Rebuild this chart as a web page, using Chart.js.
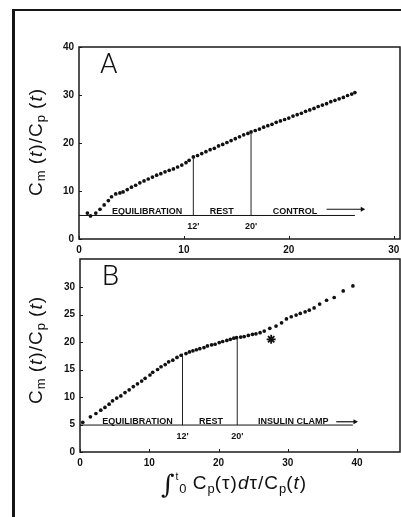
<!DOCTYPE html>
<html><head><meta charset="utf-8">
<script src="https://cdn.jsdelivr.net/npm/chart.js@4.4.1/dist/chart.umd.min.js"></script>
<style>
html,body{margin:0;padding:0;background:#fff;width:401px;height:517px;overflow:hidden;position:relative;font-family:"Liberation Sans",Arial,sans-serif;color:#111}
canvas{position:absolute;left:0}
#cA{top:0}
#cB{top:255px}
.frame{position:absolute;left:12px;top:9px;width:420px;height:530px;border-left:3px solid #151515;border-top:2px solid #151515}
.panel{position:absolute;font-family:Roboto,"Liberation Sans",sans-serif;font-weight:300;font-size:28px;line-height:1}
.ttl{position:absolute;white-space:nowrap;font-size:19px;letter-spacing:1px;line-height:1}
.ytitle{transform:translate(-50%,-50%) rotate(-90deg)}
.xtitle{transform:translate(-50%,-50%)}
.ttl sub{font-size:0.68em;vertical-align:-0.3em;letter-spacing:0}
.ttl sup{font-size:0.55em;vertical-align:0.9em}
.int{font-size:26px;font-family:"DejaVu Serif",serif;font-weight:300;vertical-align:-0.15em}
</style></head>
<body>
<div class="frame"></div>
<canvas id="cA" width="401" height="262"></canvas>
<canvas id="cB" width="401" height="262"></canvas>
<div class="panel" style="left:100px;top:50px">A</div>
<div class="panel" style="left:102px;top:262px">B</div>
<div class="ttl ytitle" style="left:37px;top:142px">C<sub>m</sub> (<i>t</i>)/C<sub>p</sub> (<i>t</i>)</div>
<div class="ttl ytitle" style="left:37px;top:350px">C<sub>m</sub> (<i>t</i>)/C<sub>p</sub> (<i>t</i>)</div>
<div class="ttl xtitle" style="left:234px;top:484px"><span class="int">∫</span><sup>t</sup><sub>0</sub> C<sub>p</sub>(τ)<i>d</i>τ/C<sub>p</sub>(<i>t</i>)</div>
<script>
// ---------- Panel A data ----------
const xA = [0.8,1.1,1.6,2.0,2.4,2.8,3.1,3.5,3.9,4.2,4.6,5.0,5.4,5.8,6.2,6.6,7.0,7.4,7.8,8.2,8.6,9.0,9.4,9.8,10.2,10.5,10.9,11.3,11.7,12.1,12.5,12.9,13.3,13.7,14.1,14.5,14.9,15.3,15.7,16.1,16.4,16.8,17.2,17.6,18.0,18.4,18.8,19.2,19.6,20.0,20.4,20.8,21.2,21.6,22.0,22.4,22.8,23.2,23.6,24.0,24.4,24.8,25.2,25.6,26.0,26.3];
const yA = [5.4,4.8,5.4,6.2,7.1,8.0,8.8,9.4,9.6,9.8,10.3,10.8,11.2,11.7,12.1,12.5,12.9,13.3,13.6,14.0,14.3,14.6,15.0,15.4,15.9,16.4,17.1,17.4,17.8,18.2,18.6,18.9,19.4,19.7,20.1,20.5,20.9,21.3,21.7,22.0,22.3,22.6,22.9,23.3,23.6,23.9,24.3,24.6,24.9,25.2,25.6,25.9,26.2,26.6,26.9,27.2,27.6,27.9,28.2,28.6,28.9,29.2,29.5,29.9,30.2,30.5];
const yTicksA = [0,10,20,30,40];
const xTicksA = [0,10,20,30];
const phaseXA = [10.9, 16.4];
const phaseTopA = [17.1, 22.3];
const baseA = 4.9, baseEndA = 26.3;
const arrowXA = [23.6, 27.0], arrowYA = 6.2;
const phaseLabelsA = ['EQUILIBRATION','REST','CONTROL'];
const phaseLabelXA = [6.5, 13.6, 20.6];
const timeLabels = ["12'", "20'"];

// ---------- Panel B data ----------
const xB = [0.4,1.5,2.3,3.0,3.6,4.2,4.7,5.3,5.9,6.5,7.1,7.7,8.3,8.9,9.4,10.1,10.5,11.2,11.7,12.3,12.8,13.4,14.0,14.6,15.3,15.8,16.3,16.8,17.3,17.9,18.4,19.0,19.5,20.1,20.6,21.2,21.7,22.2,22.6,23.2,23.7,24.3,24.9,25.4,26.0,26.6,27.4,28.3,29.1,29.8,30.5,31.2,31.8,32.5,33.1,33.8,34.6,35.6,36.7,38.0,39.4];
const yB = [5.4,6.4,7.0,7.6,8.1,8.7,9.3,9.8,10.2,10.8,11.3,11.9,12.4,12.9,13.4,14.0,14.5,15.0,15.5,15.9,16.4,16.7,17.2,17.6,17.9,18.2,18.4,18.6,18.8,19.0,19.3,19.5,19.6,19.9,20.1,20.3,20.5,20.7,20.8,20.9,21.0,21.2,21.4,21.5,21.7,22.0,22.5,22.9,23.5,24.2,24.6,24.9,25.2,25.5,25.8,26.2,26.9,27.6,28.1,29.3,30.2];
const yTicksB = [0,5,10,15,20,25,30];
const xTicksB = [0,10,20,30,40];
const phaseXB = [14.8, 22.7];
const phaseTopB = [17.9, 20.8];
const baseB = 4.9, baseEndB = 39.4;
const arrowXB = [37.0, 39.7], arrowYB = 5.5;
const phaseLabelsB = ['EQUILIBRATION','REST','INSULIN CLAMP'];
const phaseLabelXB = [8.3, 18.9, 30.8];
const starX = [27.6], starY = [20.5];

const INK = '#111';
const tickFont = {family:'"Liberation Sans", Arial, sans-serif', size:10, weight:'bold'};

function pts(xs, ys){ return xs.map((x,i)=>({x, y:ys[i]})); }

function makePlugin(cfg){
  return {
    id:'boxText',
    afterDraw(chart){
      const {ctx, chartArea:a, scales:{x, y}} = chart;
      ctx.save();
      ctx.strokeStyle = '#1a1a1a';
      ctx.lineWidth = 1.5;
      ctx.strokeRect(a.left, a.top, a.right - a.left, a.bottom - a.top);
      ctx.lineWidth = 1;
      y.ticks.forEach(t => { const p = Math.round(y.getPixelForValue(t.value)) + 0.5; ctx.beginPath(); ctx.moveTo(a.left, p); ctx.lineTo(a.left + 3, p); ctx.stroke(); });
      x.ticks.forEach(t => { const p = Math.round(x.getPixelForValue(t.value)) + 0.5; ctx.beginPath(); ctx.moveTo(p, a.bottom); ctx.lineTo(p, a.bottom - 3); ctx.stroke(); });
      const by = y.getPixelForValue(cfg.base);
      ctx.fillStyle = INK;
      ctx.textAlign = 'center';
      ctx.font = 'bold 9px "Liberation Sans", Arial, sans-serif';
      ctx.textBaseline = 'alphabetic';
      cfg.labels.forEach((s, i) => ctx.fillText(s, x.getPixelForValue(cfg.labelX[i]), by - 1.5));
      ctx.font = 'bold 9px "Liberation Sans", Arial, sans-serif';
      ctx.textBaseline = 'middle';
      cfg.times.forEach((s, i) => ctx.fillText(s, x.getPixelForValue(cfg.phaseX[i]), by + 11));
      ctx.restore();
    }
  };
}

function build(id, o){
  const datasets = [];
  datasets.push({data: pts([0, o.baseEnd], [o.base, o.base]), showLine:true, borderColor:INK, borderWidth:1, pointRadius:0});
  o.phaseX.forEach((px, i) => datasets.push({data: pts([px, px], [o.base, o.phaseTop[i]]), showLine:true, borderColor:'#222', borderWidth:1, pointRadius:0}));
  datasets.push({data: pts(o.arrowX, [o.arrowY, o.arrowY]), showLine:true, borderColor:INK, borderWidth:1.2, pointRadius:[0,3], pointStyle:'triangle', pointRotation:90, pointBackgroundColor:INK, pointBorderWidth:0});
  if (o.star) datasets.push({data: pts(o.star[0], o.star[1]), showLine:false, pointStyle:'star', pointRadius:4.5, borderColor:INK, pointBorderColor:INK, pointBorderWidth:1.8});
  datasets.push({data: pts(o.xs, o.ys), showLine:false, pointRadius:1.85, pointBackgroundColor:INK, pointBorderWidth:0});

  new Chart(document.getElementById(id), {
    type:'scatter',
    data:{datasets},
    plugins:[makePlugin(o)],
    options:{
      responsive:false, animation:false, devicePixelRatio:1,
      events:[],
      layout:{autoPadding:false, padding:{left:0, right:1, top:o.padTop, bottom:0}},
      plugins:{legend:{display:false}, tooltip:{enabled:false}},
      scales:{
        x:{type:'linear', min:0, max:o.xMax,
           afterBuildTicks(s){ s.ticks = o.xTicks.map(v=>({value:v})); },
           afterFit(s){ s.height = o.xAxisH; s.paddingLeft = 0; s.paddingRight = 0; },
           grid:{display:false, drawTicks:false}, border:{display:false},
           ticks:{color:INK, font:tickFont, padding:5, maxRotation:0}},
        y:{type:'linear', min:0, max:o.yMax,
           afterBuildTicks(s){ s.ticks = o.yTicks.map(v=>({value:v})); },
           afterFit(s){ s.width = o.yAxisW; s.paddingTop = 0; s.paddingBottom = 0; },
           grid:{display:false, drawTicks:false}, border:{display:false},
           ticks:{color:INK, font:tickFont, padding:5}}
      }
    }
  });
}

build('cA', {xs:xA, ys:yA, xTicks:xTicksA, yTicks:yTicksA, xMax:30.6, yMax:40, padTop:47, xAxisH:23, yAxisW:79,
  phaseX:phaseXA, phaseTop:phaseTopA, base:baseA, baseEnd:baseEndA, arrowX:arrowXA, arrowY:arrowYA,
  labels:phaseLabelsA, labelX:phaseLabelXA, times:timeLabels});
build('cB', {xs:xB, ys:yB, xTicks:xTicksB, yTicks:yTicksB, xMax:46.2, yMax:35.1, padTop:4, xAxisH:65, yAxisW:80,
  phaseX:phaseXB, phaseTop:phaseTopB, base:baseB, baseEnd:baseEndB, arrowX:arrowXB, arrowY:arrowYB,
  labels:phaseLabelsB, labelX:phaseLabelXB, times:timeLabels, star:[starX, starY]});
</script>
</body></html>
